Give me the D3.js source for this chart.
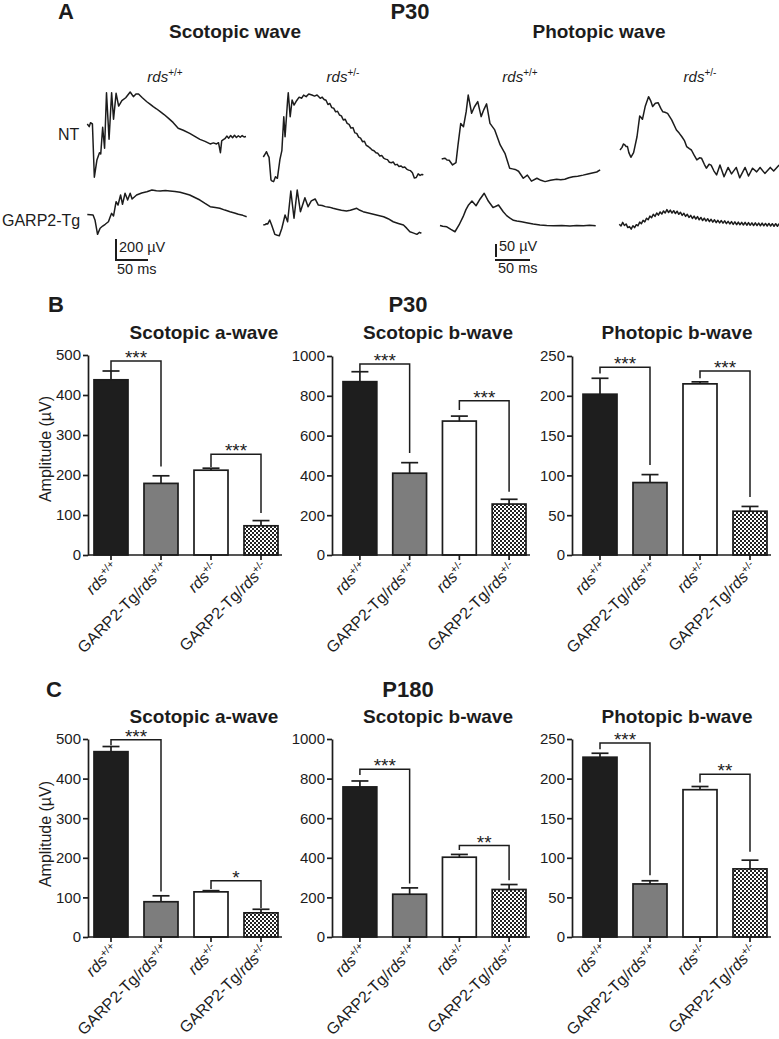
<!DOCTYPE html>
<html><head><meta charset="utf-8">
<script src="https://cdn.jsdelivr.net/npm/d3@7"></script>
<style>body{margin:0;background:#fff}svg{display:block}</style>
</head><body>
<svg id="c" width="779" height="1039"></svg>
<script>
// ---------------- DATA ----------------
const groups = ["rds+/+", "GARP2-Tg/rds+/+", "rds+/-", "GARP2-Tg/rds+/-"];
const groupPrefix = ["", "GARP2-Tg/", "", "GARP2-Tg/"];
const groupSup = ["+/+", "+/+", "+/-", "+/-"];

// P30 bar values (µV) and SEM
const p30ScotA = [438, 179, 212, 73];
const p30ScotAErr = [22, 19, 5, 13];
const p30ScotB = [871, 411, 673, 256];
const p30ScotBErr = [50, 53, 25, 24];
const p30PhotB = [202, 91, 215, 55];
const p30PhotBErr = [20, 10, 2.5, 6];
// P180
const p180ScotA = [468, 89, 114, 61];
const p180ScotAErr = [13, 15, 3, 9];
const p180ScotB = [758, 216, 403, 240];
const p180ScotBErr = [30, 32, 14, 25];
const p180PhotB = [227, 67, 186, 86];
const p180PhotBErr = [5, 4, 4, 11];

// significance brackets: [from, to, level, leftEnd, rightEnd, label]
const p30ScotASig = [[0,1,485,460,221,"***"],[2,3,252,220,105,"***"]];
const p30ScotBSig = [[0,1,960,921,513,"***"],[2,3,775,729,318,"***"]];
const p30PhotBSig = [[0,1,236,228,113,"***"],[2,3,231,222,73,"***"]];
const p180ScotASig = [[0,1,498,484,115,"***"],[2,3,142,121,73,"*"]];
const p180ScotBSig = [[0,1,847,818,270,"***"],[2,3,462,440,287,"**"]];
const p180PhotBSig = [[0,1,245,237,78,"***"],[2,3,205.5,195,107.5,"**"]];

// y-axis ticks
const ticksA = [0,100,200,300,400,500];
const ticksB = [0,200,400,600,800,1000];
const ticksP = [0,50,100,150,200,250];

// ERG traces: [time ms, amplitude µV]
const scotWT_NT = [[0,0],[3,-25],[5,12],[8,0],[11,-507],[15,-343],[19,-273],[21,-286],[24,-31],[27,-231],[30,298],[34,-146],[38,298],[41,45],[45,292],[49,171],[54,222],[60,250],[67,305],[72,260],[76,285],[80,286],[86,250],[93,212],[98,190],[103,165],[108,145],[114,117],[120,90],[127,54],[134,15],[142,-41],[150,-60],[160,-89],[168,-118],[176,-146],[184,-165],[192,-190],[197,-180],[202,-190],[205,-178],[208,-273],[210,-160],[212,-152],[215,-140],[218,-115],[221,-135],[224,-110],[227,-130],[230,-108],[233,-128],[236,-112],[239,-126],[242,-110],[245,-124],[248,-120]];
const scotHet_NT = [[0,0],[3,30],[5,50],[7,20],[9,-3],[12,-219],[14,-230],[16,-235],[19,-188],[22,-203],[26,-22],[29,60],[32,384],[34,193],[38,543],[39,612],[42,384],[45,543],[48,495],[52,536],[56,570],[60,560],[63,590],[67,575],[71,600],[76,590],[80,580],[84,590],[89,559],[92,570],[95,548],[98,540],[101,500],[104,510],[107,470],[110,465],[113,430],[116,436],[119,400],[122,392],[125,352],[128,360],[131,320],[134,310],[137,275],[140,280],[143,230],[146,225],[149,190],[152,180],[155,146],[158,150],[161,110],[164,100],[167,85],[170,67],[173,60],[176,40],[179,35],[182,10],[185,15],[188,-10],[191,-20],[194,-25],[197,-50],[200,-55],[203,-48],[206,-75],[209,-70],[212,-90],[215,-85],[218,-100],[221,-95],[224,-115],[227,-125],[230,-130],[233,-150],[236,-200],[239,-195],[242,-160],[245,-175],[248,-165],[250,-171]];
const photWT_NT = [[0,0],[3,2],[5,3],[7,-2],[8,-4],[11,-5],[16,-23],[21,-14],[24,54],[28,137],[32,124],[36,182],[39,246],[44,176],[48,200],[53,221],[58,163],[62,190],[66,212],[71,137],[78,112],[86,54],[93,22],[100,-36],[104,-38],[108,-40],[113,-47],[120,-74],[126,-62],[132,-85],[140,-74],[146,-82],[152,-87],[160,-82],[169,-78],[175,-80],[181,-78],[187,-72],[193,-68],[200,-66],[208,-62],[215,-58],[223,-53],[228,-50],[233,-42]];
const photHet_NT = [[0,0],[3,10],[5,23],[7,20],[9,13],[11,13],[13,-10],[16,-28],[20,-10],[25,51],[29,131],[31,125],[33,118],[37,167],[42,205],[45,190],[48,167],[52,180],[56,182],[60,160],[63,147],[66,145],[70,141],[76,116],[83,77],[87,65],[91,51],[95,35],[98,13],[102,5],[105,0],[109,-20],[113,-38],[117,-30],[120,-32],[124,-55],[127,-70],[131,-55],[134,-58],[138,-80],[142,-96],[147,-58],[153,-103],[159,-67],[164,-92],[171,-67],[176,-107],[184,-67],[189,-100],[195,-70],[201,-84],[206,-67],[213,-90],[221,-67],[226,-81],[234,-58]];
const scotWT_Tg = [[0,0],[5,-3],[9,-5],[12,-52],[16,-189],[20,-131],[24,-110],[28,-93],[33,-69],[36,-20],[38,11],[41,-14],[45,122],[48,90],[52,186],[55,97],[59,202],[63,138],[67,202],[70,148],[77,186],[85,205],[93,217],[101,233],[108,226],[114,224],[122,228],[129,224],[137,220],[145,211],[152,200],[160,186],[168,162],[176,138],[184,105],[192,74],[200,66],[207,59],[215,42],[223,27],[230,15],[236,2],[243,-8],[249,-21]];
const scotHet_Tg = [[0,0],[3,5],[5,12],[7,10],[10,48],[13,0],[18,-89],[22,-98],[25,-102],[29,-31],[34,95],[38,31],[43,324],[48,64],[53,333],[58,127],[65,260],[70,174],[75,230],[81,248],[86,190],[92,185],[97,175],[103,170],[109,159],[115,150],[122,140],[130,133],[136,140],[141,150],[146,159],[151,140],[156,127],[164,115],[172,102],[180,90],[188,79],[195,60],[203,31],[211,15],[219,0],[224,-30],[229,-64],[234,-75],[240,-89],[244,-70],[247,-79]];
const photWT_Tg = [[0,0],[4,-3],[10,-5],[16,-15],[22,-24],[28,2],[34,34],[38,60],[42,79],[47,94],[53,76],[59,102],[65,124],[71,94],[78,69],[86,79],[93,53],[98,38],[103,28],[108,20],[113,17],[120,14],[127,11],[137,6],[147,2],[157,0],[167,-1],[179,0],[191,-2],[201,0],[211,-1],[220,1],[229,-1]];
// GARP2-Tg/rds+/- photopic: sampled every 2.5 ms
const photHet_TgTimeStep = 2.5;
const photHet_TgV = [5,-2,12,0,6,-8,-4,-14,-1,-8,3,-1,13,7,20,14,28,22,36,30,43,35,48,40,52,44,56,48,61,50,59,48,57,46,55,43,51,39,47,35,43,31,39,27,36,25,34,22,31,19,28,17,26,15,24,13,22,11,20,10,19,9,18,7,16,6,15,4,14,3,13,3,12,2,12,1,11,1,10,0,10,0,9,-1,9,-1,8,-2,8,-2,7,-3,7,-3,7];

// ---------------- DRAWING ----------------
const FONT = '"Liberation Sans", Arial, Helvetica, sans-serif';
const ink = "#1c1c1c";
const svg = d3.select("#c").attr("font-family", FONT);

const defs = svg.append("defs");
const pat = defs.append("pattern").attr("id","chk").attr("patternUnits","userSpaceOnUse").attr("width",4).attr("height",4);
pat.append("rect").attr("width",4).attr("height",4).attr("fill","#fff");
pat.append("rect").attr("width",2).attr("height",2).attr("fill","#222");
pat.append("rect").attr("x",2).attr("y",2).attr("width",2).attr("height",2).attr("fill","#222");
const barFills = ["#1e1e1e", "#7d7d7d", "#ffffff", "url(#chk)"];

function txt(x, y, s, size, weight, anchor) {
  return svg.append("text").attr("x", x).attr("y", y).text(s)
    .attr("font-size", size).attr("font-weight", weight || "normal")
    .attr("text-anchor", anchor || "start").attr("fill", ink);
}
function rdsText(sel, prefix, sup, supSize) {
  if (prefix) sel.append("tspan").text(prefix);
  sel.append("tspan").attr("font-style", "italic").text("rds");
  sel.append("tspan").attr("font-size", supSize).attr("dy", -6).text(sup);
}

// ---- Panel A ----
txt(58, 19, "A", 22, "bold");
txt(410, 19, "P30", 22, "bold", "middle");
txt(235, 38, "Scotopic wave", 19, "bold", "middle");
txt(599, 38, "Photopic wave", 19, "bold", "middle");
[[165,"+/+"],[343,"+/-"],[520,"+/+"],[700,"+/-"]].forEach(d => {
  const t = svg.append("text").attr("x", d[0]).attr("y", 82).attr("font-size", 15)
    .attr("text-anchor", "middle").attr("fill", ink);
  rdsText(t, "", d[1], 10);
});
txt(58, 140, "NT", 16);
txt(2, 226, "GARP2-Tg", 16);

const scot = { x: d3.scaleLinear().domain([0, 50]).range([0, 32]),
               y: d3.scaleLinear().domain([0, 200]).range([0, -21]) };
const phot = { x: d3.scaleLinear().domain([0, 50]).range([0, 34]),
               y: d3.scaleLinear().domain([0, 50]).range([0, -13]) };

const photHet_Tg = photHet_TgV.map((v, i) => [i * photHet_TgTimeStep, v]);
const traces = [
  { data: scotWT_NT, sc: scot, ox: 87.3, oy: 124 },
  { data: scotHet_NT, sc: scot, ox: 263.3, oy: 157 },
  { data: photWT_NT, sc: phot, ox: 441.7, oy: 159 },
  { data: photHet_NT, sc: phot, ox: 620, oy: 150 },
  { data: scotWT_Tg, sc: scot, ox: 87.3, oy: 214.5 },
  { data: scotHet_Tg, sc: scot, ox: 263.3, oy: 225 },
  { data: photWT_Tg, sc: phot, ox: 440, oy: 225.5 },
  { data: photHet_Tg, sc: phot, ox: 619.3, oy: 225.5 }
];
traces.forEach(d => {
  const line = d3.line().x(p => d.sc.x(p[0])).y(p => d.sc.y(p[1]));
  svg.append("path").attr("transform", `translate(${d.ox},${d.oy})`)
    .attr("d", line(d.data)).attr("fill", "none").attr("stroke", ink)
    .attr("stroke-width", 1.5).attr("stroke-linejoin", "round");
});

// scale bars
function scaleBar(sc, ox, oyV, oyH, vVal, tVal) {
  svg.append("line").attr("x1", ox).attr("x2", ox)
    .attr("y1", oyV + sc.y(0)).attr("y2", oyV + sc.y(vVal))
    .attr("stroke", ink).attr("stroke-width", 2);
  svg.append("line").attr("x1", ox - 1).attr("x2", ox + sc.x(tVal))
    .attr("y1", oyH).attr("y2", oyH).attr("stroke", ink).attr("stroke-width", 2);
}
scaleBar(scot, 116, 260, 260, 200, 50);
scaleBar(phot, 496, 257, 260, 50, 50);
txt(119, 252, "200 \u00b5V", 14.5);
txt(117, 274, "50 ms", 14.5);
txt(499, 251, "50 \u00b5V", 14.5);
txt(498, 273, "50 ms", 14.5);

// ---- Bar charts ----
function barChart(cfg) {
  const g = svg.append("g");
  const y = d3.scaleLinear().domain([0, cfg.max]).range([cfg.base, cfg.top]);
  const x = d3.scaleBand().domain(groups).range([cfg.b0, cfg.b1]).paddingInner(0.32).paddingOuter(0);
  const bw = x.bandwidth();
  const cx = i => x(groups[i]) + bw / 2;

  g.selectAll("rect.bar").data(cfg.vals).enter().append("rect")
    .attr("x", (d, i) => x(groups[i])).attr("y", d => y(d))
    .attr("width", bw).attr("height", d => y(0) - y(d))
    .attr("fill", (d, i) => barFills[i]).attr("stroke", ink).attr("stroke-width", 1.7);
  cfg.vals.forEach((v, i) => {
    const top = y(v + cfg.errs[i]);
    g.append("line").attr("x1", cx(i)).attr("x2", cx(i)).attr("y1", y(v)).attr("y2", top)
      .attr("stroke", ink).attr("stroke-width", 1.7);
    g.append("line").attr("x1", cx(i) - 8.5).attr("x2", cx(i) + 8.5).attr("y1", top).attr("y2", top)
      .attr("stroke", ink).attr("stroke-width", 1.7);
  });
  cfg.sig.forEach(s => {
    const xl = cx(s[0]), xr = cx(s[1]);
    g.append("path").attr("d", `M${xl},${y(s[3])}V${y(s[2])}H${xr}V${y(s[4])}`)
      .attr("fill", "none").attr("stroke", ink).attr("stroke-width", 1.5);
    g.append("text").attr("x", (xl + xr) / 2).attr("y", y(s[2]) + 3).text(s[5])
      .attr("text-anchor", "middle").attr("font-size", 19).attr("fill", ink);
  });
  const ax = d3.axisLeft(y).tickValues(cfg.ticks).tickFormat(d3.format("d"))
    .tickSize(5).tickSizeOuter(0).tickPadding(2);
  const ga = g.append("g").attr("transform", `translate(${cfg.x0},0)`).call(ax);
  ga.attr("font-family", FONT);
  ga.select(".domain").attr("stroke", ink).attr("stroke-width", 1.7);
  ga.selectAll(".tick line").attr("stroke", ink).attr("stroke-width", 1.7);
  ga.selectAll(".tick text").attr("font-size", 15).attr("fill", ink);
  g.append("line").attr("x1", cfg.x0).attr("x2", cfg.b1 + 4).attr("y1", y(0)).attr("y2", y(0))
    .attr("stroke", ink).attr("stroke-width", 1.7);
  groups.forEach((gname, i) => {
    g.append("line").attr("x1", cx(i)).attr("x2", cx(i)).attr("y1", y(0)).attr("y2", y(0) + 5)
      .attr("stroke", ink).attr("stroke-width", 1.7);
    const t = g.append("text").attr("transform", `translate(${cx(i) + 8},${y(0) + 14}) rotate(-45)`)
      .attr("text-anchor", "end").attr("font-size", 16).attr("fill", ink);
    rdsText(t, groupPrefix[i], groupSup[i], 10.5);
  });
  g.append("text").attr("x", cfg.tx).attr("y", cfg.ty).text(cfg.title)
    .attr("text-anchor", "middle").attr("font-size", 19).attr("font-weight", "bold").attr("fill", ink);
  if (cfg.ylab) {
    g.append("text").attr("transform", `translate(51,${cfg.ylabY}) rotate(-90)`)
      .attr("text-anchor", "middle").attr("font-size", 16).attr("fill", ink).text("Amplitude (\u00b5V)");
  }
}

// Panel B
txt(48, 312, "B", 22, "bold");
txt(408, 312, "P30", 22, "bold", "middle");
barChart({ x0: 88, b0: 94, b1: 278, base: 555, top: 355, max: 500, ticks: ticksA,
  vals: p30ScotA, errs: p30ScotAErr, sig: p30ScotASig, title: "Scotopic a-wave", tx: 204, ty: 339, ylab: true, ylabY: 449 });
barChart({ x0: 332, b0: 343, b1: 526, base: 555, top: 356, max: 1000, ticks: ticksB,
  vals: p30ScotB, errs: p30ScotBErr, sig: p30ScotBSig, title: "Scotopic b-wave", tx: 438, ty: 339 });
barChart({ x0: 572, b0: 583, b1: 767, base: 555, top: 356, max: 250, ticks: ticksP,
  vals: p30PhotB, errs: p30PhotBErr, sig: p30PhotBSig, title: "Photopic b-wave", tx: 677, ty: 339 });

// Panel C
txt(46, 697, "C", 22, "bold");
txt(408, 697, "P180", 22, "bold", "middle");
barChart({ x0: 88, b0: 94, b1: 278, base: 937, top: 739, max: 500, ticks: ticksA,
  vals: p180ScotA, errs: p180ScotAErr, sig: p180ScotASig, title: "Scotopic a-wave", tx: 204, ty: 723, ylab: true, ylabY: 834 });
barChart({ x0: 332, b0: 343, b1: 526, base: 937, top: 739, max: 1000, ticks: ticksB,
  vals: p180ScotB, errs: p180ScotBErr, sig: p180ScotBSig, title: "Scotopic b-wave", tx: 438, ty: 723 });
barChart({ x0: 572, b0: 583, b1: 767, base: 937, top: 739, max: 250, ticks: ticksP,
  vals: p180PhotB, errs: p180PhotBErr, sig: p180PhotBSig, title: "Photopic b-wave", tx: 677, ty: 723 });
</script>
</body></html>
